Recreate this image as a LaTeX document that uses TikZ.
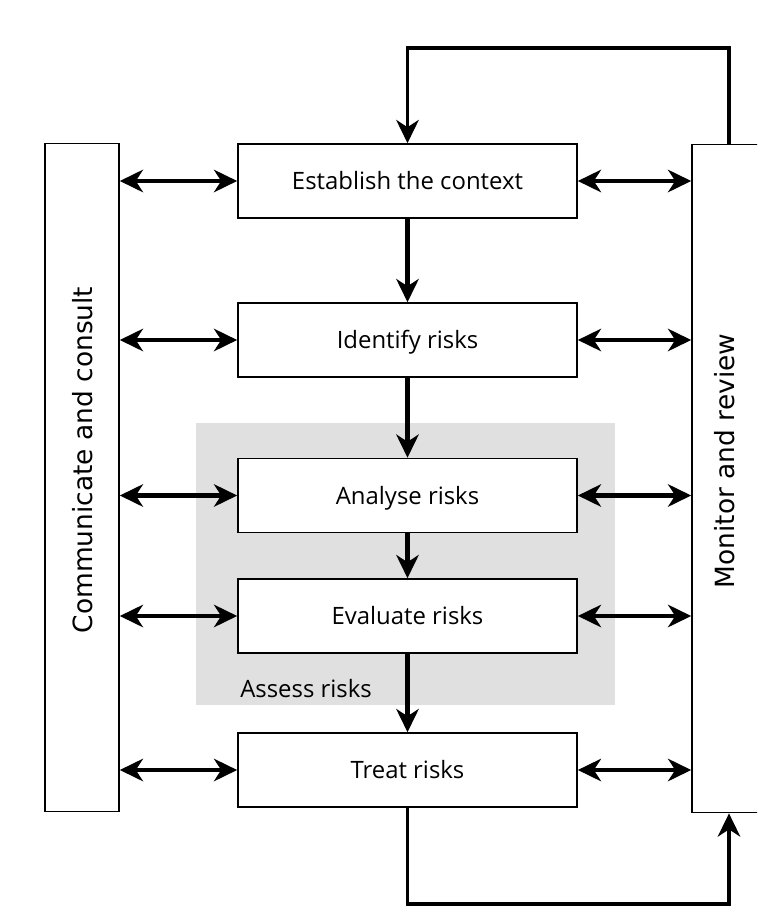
\documentclass[tikz,border=0pt]{standalone}
\usepackage{fontspec}
\setmainfont{Open Sans}
\newfontfamily\sidefont{DejaVu Sans}
\usetikzlibrary{arrows.meta}
\definecolor{assessgray}{RGB}{224,224,224}

\begin{document}
\begin{tikzpicture}[x=0.025cm,y=-0.025cm]
\tikzstyle{task} = [draw=black, line width=1.1pt, fill=white, minimum width=8.475cm, minimum height=1.85cm, inner sep=0pt, font=\fontsize{17}{20}\selectfont, text height=12.1pt, text depth=0pt]
\tikzstyle{bar} = [draw=black, line width=1.1pt, fill=white, minimum width=1.85cm, minimum height=16.7cm, inner sep=0pt]
\tikzstyle{sidetext} = [rotate=90, inner sep=0pt, font=\sidefont\fontsize{18.8}{22}\selectfont]
\tikzstyle{tip} = [-{Stealth[length=5.8mm,width=5.6mm,inset=1.8mm]}]
\tikzstyle{flow} = [draw=black, line width=3.5pt, tip]
\tikzstyle{link} = [draw=black, line width=3.5pt, {Stealth[length=5.8mm,width=5.6mm,inset=1.8mm]}-{Stealth[length=5.8mm,width=5.6mm,inset=1.8mm]}]
\tikzstyle{feedback} = [draw=black, line width=2.6pt]

\useasboundingbox (0,0) rectangle (757,906);
\clip (0,0) rectangle (757,906);

% assessment area
\node[fill=assessgray, minimum width=10.475cm, minimum height=7.05cm, inner sep=0pt] (assess) at (405.5,564) {};
\node[anchor=west, inner sep=0pt, font=\fontsize{17}{20}\selectfont, text height=12.1pt, text depth=0pt] (assesslabel) at (240,688.5) {Assess risks};

% side bars
\node[bar] (comm) at (82,477.5) {};
\node[sidetext] (commtext) at (83,460) {Communicate and consult};
\node[bar] (mon) at (729,478.5) {};
\node[sidetext] (montext) at (725,461) {Monitor and review};

% process steps
\node[task] (est) at (407.5,181) {Establish the context};
\node[task] (ident) at (407.5,340) {Identify risks};
\node[task] (analyse) at (407.5,495.5) {Analyse risks};
\node[task] (evaluate) at (407.5,616) {Evaluate risks};
\node[task] (treat) at (407.5,770) {Treat risks};

\draw[flow] (est) -- (ident);
\draw[flow] (ident) -- (analyse);
\draw[flow] (analyse) -- (evaluate);
\draw[flow] (evaluate) -- (treat);

\draw[link] (comm.east |- est) -- (est);
\draw[link] (comm.east |- ident) -- (ident);
\draw[link] (comm.east |- analyse) -- (analyse);
\draw[link] (comm.east |- evaluate) -- (evaluate);
\draw[link] (comm.east |- treat) -- (treat);
\draw[link] (est) -- (mon.west |- est);
\draw[link] (ident) -- (mon.west |- ident);
\draw[link] (analyse) -- (mon.west |- analyse);
\draw[link] (evaluate) -- (mon.west |- evaluate);
\draw[link] (treat) -- (mon.west |- treat);

% feedback loop
\coordinate (topturn) at (407.5,48);
\coordinate (bottomturn) at (407.5,904);
\draw[feedback, tip] (mon.north) |- (topturn) -- (est.north);
\draw[feedback, tip] (treat.south) -- (bottomturn) -| (mon.south);
\end{tikzpicture}
\end{document}
